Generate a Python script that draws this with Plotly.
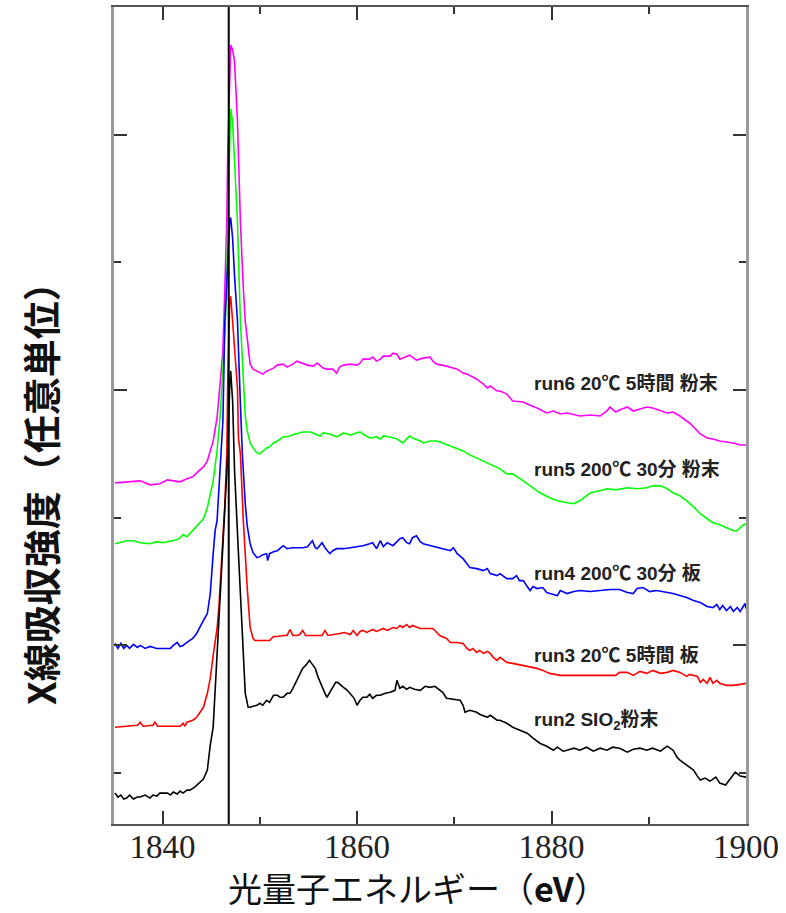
import plotly.graph_objects as go

# ---- data (photon energy in eV, absorption intensity in arbitrary units) ----
run6_x = [1835.1,1836.3,1837.7,1838.7,1839.7,1840.5,1841.1,1841.8,1842.5,1843.1,1843.5,1844.2,1844.6,1844.9,1845.2,1845.6,1845.9,1846.2,1846.4,1846.6,1846.7,1846.9,1847.0,1847.2,1847.4,1847.7,1848.0,1848.3,1848.5,1848.7,1849.0,1849.3,1849.7,1850.3,1850.7,1851.4,1851.8,1852.4,1852.8,1853.4,1853.8,1854.4,1854.9,1855.5,1855.9,1856.5,1856.9,1857.5,1857.9,1858.2,1858.6,1859.3,1860.0,1860.3,1860.6,1861.3,1861.6,1862.0,1862.4,1862.7,1863.4,1863.7,1864.1,1864.4,1864.7,1865.4,1865.7,1866.1,1866.8,1867.5,1867.8,1868.2,1869.2,1870.3,1870.9,1871.3,1872.3,1873.0,1873.4,1873.7,1874.4,1874.7,1875.4,1875.7,1876.0,1877.1,1877.5,1878.5,1879.5,1880.2,1880.9,1881.6,1882.9,1884.0,1885.0,1885.7,1886.0,1886.6,1887.0,1887.8,1888.4,1889.1,1889.8,1890.4,1891.2,1891.9,1892.5,1893.2,1893.9,1894.2,1895.3,1896.0,1896.6,1897.3,1898.0,1898.7,1899.4,1900.0]
run6_y = [342,343,344,340,341,345,344,343,346,348,352,358,364,374,384,407,441,474,537,604,674,764,781,776,764,704,604,537,504,487,461,456,454,451,454,457,460,461,458,461,464,462,460,459,462,457,456,456,452,458,460,461,460,462,466,466,468,464,466,469,469,472,471,466,467,470,468,465,467,468,464,461,459,456,452,451,446,441,437,439,434,434,431,427,424,423,421,417,412,414,411,412,409,410,409,414,418,413,415,418,414,416,418,417,414,412,413,409,404,402,391,387,386,384,383,382,380,380]

run5_x = [1835.1,1836.3,1837.0,1837.7,1838.7,1839.4,1840.0,1840.8,1841.5,1841.8,1842.1,1842.5,1842.8,1843.1,1843.8,1844.2,1844.6,1844.9,1845.2,1845.6,1845.9,1846.2,1846.4,1846.6,1846.7,1846.9,1847.0,1847.2,1847.4,1847.7,1848.0,1848.3,1848.5,1848.7,1849.0,1849.3,1849.7,1850.0,1850.3,1850.7,1851.0,1851.4,1851.8,1852.1,1852.4,1853.1,1853.6,1854.1,1854.4,1855.2,1855.7,1856.2,1856.5,1857.2,1857.9,1858.2,1858.6,1859.3,1860.0,1860.3,1860.6,1861.3,1862.0,1862.4,1862.7,1863.4,1864.1,1864.7,1865.4,1865.7,1866.5,1866.8,1867.5,1868.2,1868.8,1869.6,1870.3,1870.9,1871.6,1872.3,1873.0,1873.7,1874.4,1874.7,1875.4,1876.0,1877.1,1878.1,1878.8,1879.8,1880.6,1881.6,1882.3,1882.9,1883.6,1884.0,1885.0,1885.7,1886.6,1887.8,1888.8,1889.8,1890.4,1891.2,1891.9,1892.5,1893.2,1893.9,1894.6,1895.3,1896.0,1896.6,1897.3,1898.0,1898.7,1899.1,1899.6,1900.0]
run5_y = [281,284,284,282,281,283,282,284,285,287,290,288,291,294,301,306,317,329,344,374,407,457,494,534,604,694,717,704,664,604,504,437,409,394,382,377,372,371,374,377,378,382,384,386,388,389,391,392,393,393,391,389,392,391,388,390,392,390,392,393,391,387,388,386,389,388,386,382,389,387,384,382,384,384,382,379,377,374,370,367,364,361,358,356,351,351,344,337,332,327,324,322,321,324,329,332,334,336,335,337,336,337,339,339,336,332,329,324,318,311,306,302,300,297,294,294,299,301]

run4_x = [1835.1,1835.4,1835.7,1836.0,1836.3,1836.6,1837.0,1837.4,1837.7,1838.2,1838.7,1839.4,1840.0,1840.8,1841.1,1841.5,1841.8,1842.1,1842.5,1842.8,1843.1,1843.5,1843.8,1844.2,1844.6,1844.9,1845.2,1845.4,1845.6,1845.9,1846.2,1846.4,1846.7,1846.9,1847.0,1847.2,1847.4,1847.7,1848.0,1848.2,1848.5,1848.7,1849.0,1849.3,1849.7,1850.0,1850.3,1850.7,1850.8,1851.0,1851.4,1851.8,1852.4,1852.8,1853.4,1854.4,1854.9,1855.4,1855.7,1855.9,1856.4,1856.7,1857.2,1857.5,1857.9,1858.6,1859.3,1860.0,1860.6,1861.3,1861.6,1862.0,1862.4,1862.7,1863.1,1863.7,1864.1,1864.4,1864.7,1865.1,1865.4,1865.7,1866.1,1866.5,1866.8,1867.5,1868.2,1868.8,1869.6,1869.9,1870.3,1870.9,1871.6,1872.3,1873.0,1873.4,1873.7,1874.4,1874.7,1875.4,1876.0,1876.4,1876.7,1877.1,1877.5,1877.8,1878.1,1878.5,1879.1,1879.5,1880.2,1880.6,1880.9,1881.6,1882.3,1882.9,1884.0,1885.0,1886.0,1887.0,1887.8,1888.4,1888.8,1889.4,1890.1,1890.8,1891.5,1892.5,1893.2,1893.9,1894.6,1895.3,1896.0,1896.6,1897.0,1897.3,1897.6,1898.0,1898.4,1898.7,1899.1,1899.4,1899.9,1900.0]
run4_y = [181,176,181,176,179,176,180,177,179,176,178,176,176,176,179,182,178,179,182,184,186,191,197,204,211,231,271,294,304,354,404,504,571,604,608,587,549,504,421,371,321,299,281,272,267,268,270,271,264,271,273,274,279,276,277,277,278,284,277,276,282,277,271,274,276,276,277,278,279,281,282,276,284,278,282,279,283,286,287,282,281,287,289,283,281,279,277,276,274,277,271,266,257,256,254,256,251,249,251,246,246,249,244,244,238,234,238,236,237,232,230,229,234,231,233,234,233,234,235,235,232,231,236,237,233,234,233,231,229,227,224,222,218,217,220,215,219,214,218,213,217,213,221,216]

run3_x = [1835.1,1836.3,1837.4,1837.7,1838.0,1839.0,1839.2,1839.5,1840.8,1841.8,1842.1,1842.3,1842.5,1843.1,1843.5,1843.8,1844.2,1844.6,1844.9,1845.2,1845.6,1845.8,1846.1,1846.4,1846.6,1846.7,1846.9,1847.0,1847.2,1847.4,1847.7,1847.8,1848.0,1848.3,1848.5,1848.7,1849.0,1849.3,1849.5,1850.3,1851.0,1851.4,1851.8,1852.4,1852.8,1853.1,1853.4,1853.8,1854.1,1854.4,1854.7,1855.7,1856.4,1856.7,1857.0,1858.2,1858.7,1859.3,1859.6,1860.0,1860.3,1860.6,1861.0,1861.6,1862.0,1862.7,1863.1,1863.7,1864.1,1864.4,1864.7,1865.1,1865.4,1865.7,1866.5,1866.8,1867.8,1868.2,1868.5,1869.2,1869.6,1870.3,1870.9,1871.3,1871.6,1871.9,1872.3,1872.6,1873.0,1873.4,1873.7,1874.0,1874.4,1874.7,1875.4,1876.0,1877.1,1877.8,1878.5,1879.1,1879.8,1880.9,1881.9,1883.2,1885.0,1886.6,1887.0,1887.8,1888.4,1889.1,1889.8,1890.4,1891.2,1891.9,1892.5,1893.2,1893.9,1894.2,1895.0,1895.3,1895.6,1896.0,1896.3,1896.6,1897.0,1897.3,1898.0,1898.7,1899.4,1900.0]
run3_y = [97,98,99,102,98,99,102,98,98,98,101,98,102,104,107,111,117,131,146,169,196,219,271,321,371,444,524,529,504,474,437,387,371,304,264,237,197,186,184,184,184,188,188,189,189,195,189,189,190,194,189,189,189,194,189,191,192,190,194,189,193,194,192,195,193,196,194,197,196,199,197,200,197,199,196,196,196,192,189,186,182,182,181,176,174,176,172,174,171,173,171,167,164,167,162,161,159,158,156,154,151,149,149,149,149,149,152,152,149,153,151,154,151,152,154,152,148,150,148,142,145,141,147,141,144,141,139,139,140,141]

run2_x = [1835.1,1835.4,1835.7,1836.0,1836.3,1836.6,1837.0,1837.4,1837.7,1838.2,1838.7,1839.0,1839.4,1839.7,1840.5,1840.8,1841.1,1841.5,1841.8,1842.1,1842.5,1842.8,1843.3,1843.8,1844.2,1844.6,1844.9,1845.2,1845.4,1845.7,1845.9,1846.1,1846.4,1846.7,1846.9,1847.0,1847.2,1847.4,1847.8,1848.2,1848.5,1848.8,1849.0,1849.3,1849.7,1850.0,1850.3,1850.7,1851.0,1851.4,1851.8,1852.1,1852.4,1852.8,1853.1,1853.4,1853.8,1854.1,1854.4,1854.8,1855.1,1855.4,1855.7,1856.0,1856.4,1856.7,1856.9,1857.2,1857.5,1857.8,1858.0,1858.3,1858.6,1859.0,1859.3,1859.7,1860.0,1860.3,1860.6,1861.0,1861.3,1861.6,1862.0,1862.4,1862.9,1863.4,1863.9,1864.1,1864.4,1864.7,1865.1,1865.4,1865.9,1866.5,1867.0,1867.5,1868.0,1868.5,1868.8,1869.2,1869.9,1870.6,1870.9,1871.1,1871.6,1872.3,1872.6,1873.4,1873.7,1874.4,1874.7,1875.4,1876.0,1876.7,1877.5,1878.1,1878.8,1879.5,1880.2,1880.6,1881.2,1881.6,1882.3,1882.9,1883.6,1884.3,1885.0,1885.7,1886.3,1887.0,1887.8,1888.4,1889.1,1889.8,1890.4,1891.2,1891.9,1892.5,1892.9,1893.2,1893.9,1894.6,1895.0,1895.3,1895.8,1896.3,1896.9,1897.3,1897.9,1898.4,1898.9,1899.4,1900.0]
run2_y = [31,27,29,25,26,29,25,27,27,29,26,29,28,31,31,29,32,30,33,31,34,34,37,41,45,54,79,97,134,184,224,254,321,371,439,454,424,354,271,187,131,117,117,118,119,121,119,124,122,129,129,127,127,131,131,136,144,149,156,160,164,160,156,147,137,131,127,132,137,142,142,139,137,134,131,126,119,124,127,127,130,126,129,129,131,132,134,144,136,138,135,137,135,134,138,137,138,134,132,126,125,124,119,112,114,112,110,107,109,104,104,101,97,94,91,86,81,78,74,77,73,74,76,74,77,73,76,74,77,76,72,75,76,74,76,73,78,74,67,64,59,54,48,44,46,43,47,41,39,45,52,48,47]

series_names = ["run6 20℃ 5時間 粉末", "run5 200℃ 30分 粉末", "run4 200℃ 30分 板",
                "run3 20℃ 5時間 板", "run2 SIO<sub>2</sub>粉末"]
label_y = [442, 355, 251, 169, 103]
label_x = 1878.0
edge_energy = 1846.8

x_ticks = [1840, 1860, 1880, 1900]

colors = ["#ff00ff", "#00ff00", "#0000ff", "#ff0000", "#000000"]
xs = [run6_x, run5_x, run4_x, run3_x, run2_x]
ys = [run6_y, run5_y, run4_y, run3_y, run2_y]

fig = go.Figure()
for x, y, c, n in zip(xs, ys, colors, series_names):
    fig.add_trace(go.Scatter(x=x, y=y, mode="lines", line=dict(color=c, width=1.6),
                             name=n, showlegend=False))

for n, yy in zip(series_names, label_y):
    fig.add_annotation(x=label_x, y=yy, text=n, showarrow=False, xanchor="left",
                       yanchor="middle",
                       font=dict(family="Liberation Sans, Noto Sans CJK JP", size=19,
                                 color="#222222", weight="bold"))

fig.add_shape(type="line", x0=edge_energy, x1=edge_energy, y0=0, y1=1,
              xref="x", yref="paper", line=dict(color="black", width=2))

fig.add_annotation(xref="paper", yref="paper", x=0.481, y=-0.0781,
                   text="光量子エネルギー（<b>eV</b>）", showarrow=False,
                   xanchor="center", yanchor="middle",
                   font=dict(family="Noto Sans CJK JP", size=34, color="#111111"))
fig.add_annotation(xref="paper", yref="paper", x=-0.1187, y=0.416,
                   text="<b>X線吸収強度（任意単位）</b>", showarrow=False, textangle=-90,
                   xanchor="center", yanchor="middle",
                   font=dict(family="Noto Sans CJK JP", size=38, color="#111111"))

fig.update_xaxes(range=[1835, 1900], tickvals=x_ticks, ticktext=[str(v) for v in x_ticks],
                 ticks="inside", ticklen=13, tickwidth=2, tickcolor="#333333",
                 minor=dict(dtick=10, tick0=1840, ticks="inside", ticklen=7, tickwidth=2,
                            tickcolor="#333333"),
                 showline=True, linecolor="#555555", linewidth=2, mirror="allticks",
                 showgrid=False, zeroline=False, ticklabelstandoff=-8,
                 tickfont=dict(family="Liberation Serif", size=33, color="#222222"))
fig.update_yaxes(range=[0, 819], tick0=179, dtick=256, ticks="inside", ticklen=13,
                 tickwidth=2, tickcolor="#333333",
                 minor=dict(tick0=51, dtick=128, ticks="inside", ticklen=7, tickwidth=2,
                            tickcolor="#333333"),
                 showticklabels=False, showline=True, linecolor="#999999", linewidth=3,
                 mirror="allticks", showgrid=False, zeroline=False)

fig.update_layout(width=786, height=913, margin=dict(l=114, r=40, t=5, b=89),
                  plot_bgcolor="white", paper_bgcolor="white")

fig.write_html("out.html", config={"displayModeBar": False},
               post_script="document.body.style.margin='0';")
